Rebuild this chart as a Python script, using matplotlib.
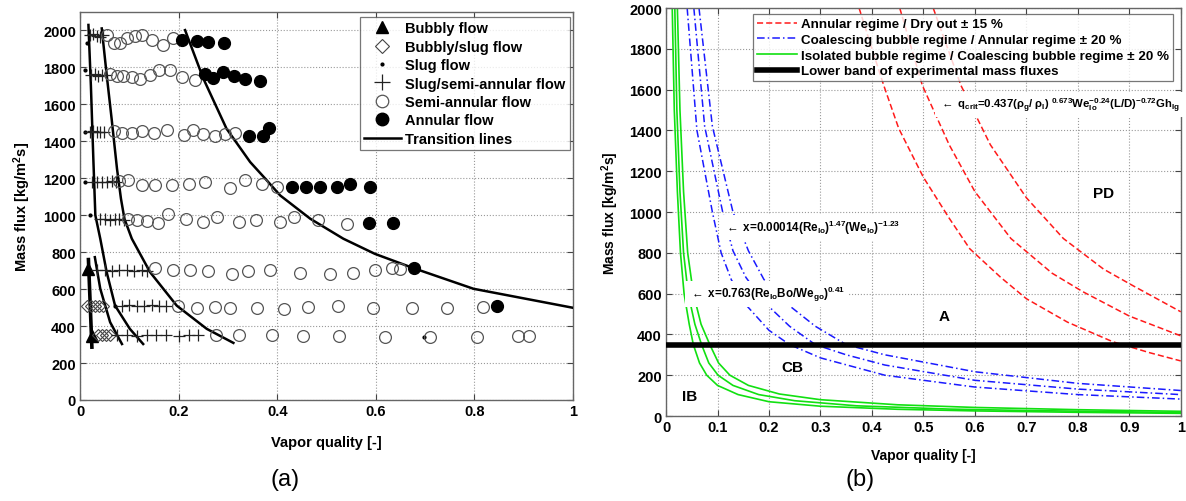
import numpy as np
import matplotlib.pyplot as plt
from matplotlib.lines import Line2D

plt.rcParams['font.family'] = ['Liberation Sans', 'DejaVu Sans']
plt.rcParams['font.weight'] = 'bold'
plt.rcParams['mathtext.fontset'] = 'custom'
plt.rcParams['mathtext.rm'] = 'Liberation Sans:bold'
plt.rcParams['mathtext.it'] = 'Liberation Sans:bold'
plt.rcParams['mathtext.bf'] = 'Liberation Sans:bold'
plt.rcParams['mathtext.default'] = 'rm'

# ---------------- panel (a): flow pattern map ----------------
xticks_a = [0, 0.2, 0.4, 0.6, 0.8, 1.0]
xlabels_a = ["0", "0.2", "0.4", "0.6", "0.8", "1"]
yticks = [0, 200, 400, 600, 800, 1000, 1200, 1400, 1600, 1800, 2000]

# bubbly flow (triangles)
bub_x = [0.017, 0.024]
bub_G = [710, 348]

# bubbly/slug (open diamonds)
bs_x = [0.014, 0.022, 0.030, 0.038, 0.046, 0.036, 0.044, 0.052, 0.060]
bs_G = [511, 511, 511, 511, 511, 350, 350, 350, 350]

# slug (small dots)
slug_x = [0.014, 0.010, 0.010, 0.010, 0.020, 0.071, 0.698]
slug_G = [1930, 1785, 1451, 1180, 1003, 511, 343]

# slug/semi-annular (plus)
ssa_x = [0.020, 0.027, 0.034, 0.041, 0.047,
         0.022, 0.030, 0.037, 0.045, 0.052,
         0.020, 0.027, 0.034, 0.041, 0.048,
         0.025, 0.035, 0.045, 0.055, 0.065, 0.073,
         0.040, 0.050, 0.060, 0.070, 0.080, 0.090,
         0.035, 0.050, 0.065, 0.080, 0.095, 0.110, 0.125, 0.135,
         0.085, 0.100, 0.115, 0.130, 0.145, 0.160, 0.175,
         0.075, 0.095, 0.115, 0.135, 0.155, 0.175, 0.200, 0.220, 0.240]
ssa_G = [1975, 1980, 1970, 1965, 1975,
         1760, 1765, 1755, 1760, 1758,
         1452, 1455, 1450, 1452, 1448,
         1180, 1182, 1178, 1180, 1183, 1178,
         977, 978, 975, 977, 980, 976,
         702, 704, 700, 702, 701, 700, 703, 699,
         511, 512, 510, 511, 512, 509, 510,
         350, 351, 349, 350, 350, 351, 349, 350, 350]

# semi-annular (open circles)
sa_x = [0.054, 0.068, 0.081, 0.095, 0.112, 0.125, 0.145, 0.169, 0.189,
        0.061, 0.074, 0.088, 0.105, 0.122, 0.142, 0.161, 0.183, 0.206, 0.233,
        0.068, 0.085, 0.105, 0.125, 0.149, 0.176, 0.210, 0.229, 0.250, 0.274, 0.294, 0.314,
        0.078, 0.098, 0.125, 0.152, 0.186, 0.220, 0.254, 0.304, 0.335, 0.369, 0.399,
        0.098, 0.115, 0.135, 0.159, 0.179, 0.215, 0.250, 0.277, 0.323, 0.357, 0.406, 0.433, 0.483, 0.541,
        0.152, 0.188, 0.223, 0.260, 0.308, 0.341, 0.385, 0.446, 0.507, 0.554, 0.598, 0.632, 0.648,
        0.199, 0.237, 0.274, 0.304, 0.358, 0.414, 0.463, 0.524, 0.595, 0.674, 0.744, 0.818,
        0.276, 0.323, 0.389, 0.453, 0.526, 0.619, 0.710, 0.805, 0.889, 0.911]
sa_G = [1975, 1930, 1930, 1957, 1971, 1978, 1947, 1921, 1960,
        1767, 1754, 1754, 1748, 1736, 1758, 1785, 1785, 1748, 1731,
        1454, 1447, 1447, 1454, 1447, 1460, 1433, 1460, 1442, 1429, 1442, 1447,
        1183, 1189, 1162, 1162, 1165, 1171, 1180, 1147, 1189, 1171, 1153,
        977, 972, 967, 959, 1008, 977, 963, 990, 963, 972, 963, 990, 972, 954,
        714, 706, 701, 697, 683, 697, 705, 690, 683, 688, 706, 714, 710,
        511, 499, 502, 499, 499, 493, 506, 511, 499, 499, 499, 506,
        354, 354, 354, 348, 348, 343, 340, 343, 345, 348]

# annular (filled circles)
an_x = [0.206, 0.237, 0.260, 0.291,
        0.254, 0.270, 0.289, 0.312, 0.335, 0.364,
        0.343, 0.372, 0.384,
        0.429, 0.458, 0.487, 0.522, 0.548, 0.588,
        0.587, 0.634, 0.678, 0.846]
an_G = [1947, 1944, 1939, 1930,
        1762, 1744, 1776, 1754, 1740, 1725,
        1429, 1427, 1473,
        1153, 1153, 1153, 1153, 1167, 1151,
        959, 959, 714, 511]

# transition lines
t1_x = [0.017, 0.022, 0.027, 0.031, 0.041, 0.054, 0.071, 0.101, 0.128]
t1_G = [2030, 1700, 1300, 1000, 873, 692, 511, 385, 303]
t2_x = [0.044, 0.054, 0.064, 0.075, 0.083, 0.090, 0.105, 0.142, 0.196, 0.257, 0.311]
t2_G = [2011, 1760, 1523, 1250, 1089, 981, 873, 692, 511, 385, 309]
t3_x = [0.030, 0.041, 0.061, 0.085]
t3_G = [773, 602, 421, 303]
t4_x = [0.017, 0.024]
t4_G = [760, 286]
t5_x = [0.213, 0.250, 0.297, 0.345, 0.375, 0.406, 0.467, 0.534, 0.598, 0.676, 0.798, 1.0]
t5_G = [2002, 1740, 1469, 1288, 1200, 1107, 981, 873, 791, 714, 602, 499]

# ---------------- panel (b): regime map ----------------
xticks_b = [0, 0.1, 0.2, 0.3, 0.4, 0.5, 0.6, 0.7, 0.8, 0.9, 1.0]
xlabels_b = ["0", "0.1", "0.2", "0.3", "0.4", "0.5", "0.6", "0.7", "0.8", "0.9", "1"]

red1_x = [0.375, 0.400, 0.423, 0.452, 0.500, 0.550, 0.590, 0.650, 0.700, 0.780, 0.868, 0.940, 1.0]
red1_G = [2000, 1800, 1620, 1410, 1170, 970, 820, 680, 575, 460, 364, 310, 270]
red2_x = [0.454, 0.498, 0.550, 0.600, 0.670, 0.750, 0.810, 0.900, 1.0]
red2_G = [2000, 1620, 1330, 1100, 870, 700, 609, 490, 393]
red3_x = [0.519, 0.573, 0.630, 0.700, 0.772, 0.850, 0.907, 1.0]
red3_G = [2000, 1620, 1330, 1070, 870, 720, 639, 511]

blue1_x = [0.041, 0.060, 0.090, 0.107, 0.127, 0.157, 0.200, 0.240, 0.300, 0.425, 0.600, 0.800, 1.0]
blue1_G = [2000, 1400, 1000, 800, 667, 540, 420, 350, 285, 200, 142, 105, 83]
blue2_x = [0.054, 0.075, 0.110, 0.130, 0.155, 0.190, 0.240, 0.290, 0.350, 0.425, 0.600, 0.800, 1.0]
blue2_G = [2000, 1420, 1000, 810, 680, 560, 440, 350, 300, 250, 175, 132, 105]
blue3_x = [0.064, 0.090, 0.130, 0.160, 0.190, 0.230, 0.290, 0.350, 0.425, 0.600, 0.800, 1.0]
blue3_G = [2000, 1420, 1000, 810, 670, 560, 440, 350, 300, 217, 160, 125]

green1_x = [0.012, 0.016, 0.022, 0.028, 0.035, 0.045, 0.053, 0.065, 0.079, 0.100, 0.140, 0.200, 0.300, 0.450, 0.600, 0.800, 1.0]
green1_G = [2000, 1500, 1100, 800, 600, 450, 350, 260, 200, 150, 105, 70, 48, 33, 25, 18, 13]
green2_x = [0.017, 0.021, 0.027, 0.034, 0.043, 0.056, 0.069, 0.083, 0.101, 0.130, 0.180, 0.250, 0.370, 0.550, 0.700, 0.850, 1.0]
green2_G = [2000, 1500, 1100, 800, 600, 450, 350, 260, 200, 150, 105, 75, 50, 34, 27, 22, 17]
green3_x = [0.022, 0.027, 0.034, 0.042, 0.053, 0.068, 0.085, 0.102, 0.124, 0.160, 0.220, 0.300, 0.450, 0.600, 0.800, 1.0]
green3_G = [2000, 1500, 1100, 800, 600, 450, 350, 260, 200, 150, 108, 80, 55, 42, 31, 23]

band_G = 350

fig = plt.figure(figsize=(11.86, 5.02), dpi=100)
axa = fig.add_axes([0.0675, 0.2012, 0.4157, 0.7729])
axb = fig.add_axes([0.5616, 0.1693, 0.4340, 0.8127])

frame = '#666666'
for ax in (axa, axb):
    ax.grid(True, linestyle=':', color='#999999', linewidth=0.8)
    ax.tick_params(direction='in', top=True, right=True, length=4, width=0.8,
                   labelsize=10.5, color='#444444', pad=3)
    for s in ax.spines.values():
        s.set_color(frame)
        s.set_linewidth(1.0)
    ax.set_axisbelow(True)

# panel a
lc = 'black'
for xs, gs in [(t1_x, t1_G), (t2_x, t2_G), (t3_x, t3_G), (t5_x, t5_G)]:
    axa.plot(xs, gs, color=lc, lw=1.8, zorder=3)
axa.plot(t4_x, t4_G, color=lc, lw=2.6, zorder=3)

axa.plot(bub_x, bub_G, '^', color='black', ms=8, ls='none', zorder=4)
axa.plot(bs_x, bs_G, 'D', mfc='none', mec='#444444', mew=0.8, ms=6, ls='none', zorder=4)
axa.plot(slug_x, slug_G, '.', color='black', ms=4, ls='none', zorder=4)
axa.plot(ssa_x, ssa_G, '+', color='#222222', mew=0.9, ms=9, ls='none', zorder=4)
axa.plot(sa_x, sa_G, 'o', mfc='none', mec='#555555', mew=0.9, ms=8.5, ls='none', zorder=4)
axa.plot(an_x, an_G, 'o', color='black', ms=8.5, ls='none', zorder=5)

axa.set_xlim(0, 1)
axa.set_ylim(0, 2100)
axa.set_xticks(xticks_a)
axa.set_xticklabels(xlabels_a)
axa.set_yticks(yticks)
axa.set_xlabel("Vapor quality [-]", fontsize=10.5, fontweight='bold', labelpad=12)
axa.set_ylabel("Mass flux [kg/m$^2$s]", fontsize=10.5, fontweight='bold', labelpad=7)

handles_a = [
    Line2D([], [], marker='^', color='black', ms=9, ls='none'),
    Line2D([], [], marker='D', mfc='white', mec='#444444', mew=0.8, ms=7, ls='none'),
    Line2D([], [], marker='.', color='black', ms=4, ls='none'),
    Line2D([], [], marker='+', color='#222222', mew=0.9, ms=11, ls='none'),
    Line2D([], [], marker='o', mfc='white', mec='#555555', mew=0.9, ms=9, ls='none'),
    Line2D([], [], marker='o', color='black', ms=9, ls='none'),
    Line2D([], [], color='black', lw=1.8),
]
labels_a = ["Bubbly flow", "Bubbly/slug flow", "Slug flow", "Slug/semi-annular flow",
            "Semi-annular flow", "Annular flow", "Transition lines"]
lega = axa.legend(handles_a, labels_a, loc='upper right', bbox_to_anchor=(0.993, 0.987),
                  fontsize=10.5, frameon=True, fancybox=False, edgecolor='#555555',
                  handlelength=2.5, handletextpad=0.3, labelspacing=0.3,
                  borderpad=0.3, borderaxespad=0.0)
lega.get_frame().set_linewidth(0.9)
for t in lega.get_texts():
    t.set_fontweight('bold')

# panel b
red_ls = (0, (4, 2))
blue_ls = (0, (5, 2, 1, 2))
for xs, gs in [(red1_x, red1_G), (red2_x, red2_G), (red3_x, red3_G)]:
    axb.plot(xs, gs, color='#ff1a1a', ls=red_ls, lw=1.1, zorder=2)
for xs, gs in [(blue1_x, blue1_G), (blue2_x, blue2_G), (blue3_x, blue3_G)]:
    axb.plot(xs, gs, color='#1a1aff', ls=blue_ls, lw=1.1, zorder=2)
for xs, gs in [(green1_x, green1_G), (green2_x, green2_G), (green3_x, green3_G)]:
    axb.plot(xs, gs, color='#11e011', lw=1.2, zorder=2)
axb.axhline(band_G, color='black', lw=4, zorder=3)

axb.set_xlim(0, 1)
axb.set_ylim(0, 2000)
axb.set_xticks(xticks_b)
axb.set_xticklabels(xlabels_b)
axb.set_yticks(yticks)
axb.set_xlabel("Vapor quality [-]", fontsize=10, fontweight='bold', labelpad=10)
axb.set_ylabel("Mass flux [kg/m$^2$s]", fontsize=10, fontweight='bold', labelpad=6)

wbox = dict(facecolor='white', edgecolor='none', pad=2.5)
axb.text(0.53, 1525,
         r"$\leftarrow$ q$_{crit}$=0.437($\rho_g$/ $\rho_l$) $^{0.673}$We$_{lo}^{-0.24}$(L/D)$^{-0.72}$Gh$_{lg}$",
         fontsize=8.2, va='center', ha='left', bbox=wbox, zorder=4)
axb.text(0.112, 925, r"$\leftarrow$ x=0.00014(Re$_{lo}$)$^{1.47}$(We$_{lo}$)$^{-1.23}$",
         fontsize=8.4, va='center', ha='left', bbox=wbox, zorder=4)
axb.text(0.044, 600, r"$\leftarrow$ x=0.763(Re$_{lo}$Bo/We$_{go}$)$^{0.41}$",
         fontsize=8.4, va='center', ha='left', bbox=wbox, zorder=4)
axb.text(0.85, 1095, "PD", fontsize=11, fontweight='bold', ha='center', va='center')
axb.text(0.54, 490, "A", fontsize=11, fontweight='bold', ha='center', va='center')
axb.text(0.245, 240, "CB", fontsize=11, fontweight='bold', ha='center', va='center')
axb.text(0.046, 100, "IB", fontsize=11, fontweight='bold', ha='center', va='center')

handles_b = [
    Line2D([], [], color='#ff1a1a', ls=red_ls, lw=1.1),
    Line2D([], [], color='#1a1aff', ls=blue_ls, lw=1.1),
    Line2D([], [], color='#11e011', lw=1.2),
    Line2D([], [], color='black', lw=4),
]
labels_b = ["Annular regime / Dry out \u00b1 15 %",
            "Coalescing bubble regime / Annular regime \u00b1 20 %",
            "Isolated bubble regime / Coalescing bubble regime \u00b1 20 %",
            "Lower band of experimental mass fluxes"]
legb = axb.legend(handles_b, labels_b, loc='upper right', bbox_to_anchor=(0.985, 0.985),
                  fontsize=9.6, frameon=True, fancybox=False, edgecolor='#555555',
                  handlelength=3.0, handletextpad=0.3, labelspacing=0.25,
                  borderpad=0.3, borderaxespad=0.0)
legb.get_frame().set_linewidth(0.9)
legb.set_zorder(6)
for t in legb.get_texts():
    t.set_fontweight('bold')

fig.text(0.2403, 0.044, "(a)", fontsize=17, fontweight='normal', ha='center', va='center')
fig.text(0.7251, 0.044, "(b)", fontsize=17, fontweight='normal', ha='center', va='center')

fig.savefig("out.png", dpi=100)
